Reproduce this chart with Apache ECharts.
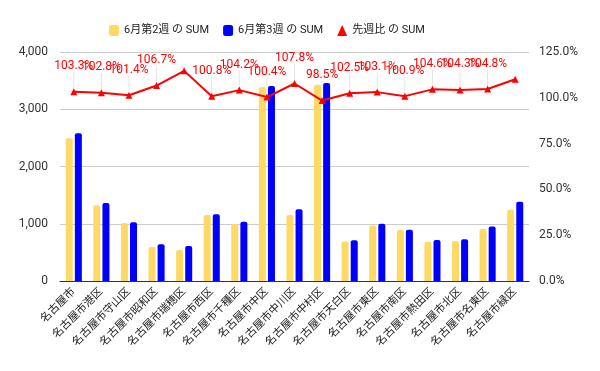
<!DOCTYPE html>
<html>
<head>
<meta charset="utf-8">
<script src="https://cdn.jsdelivr.net/npm/echarts@6/dist/echarts.min.js"></script>
<style>
html,body{margin:0;padding:0;background:#fff;}
#chart{width:600px;height:371px;}
</style>
</head>
<body>
<div id="chart"></div>
<script>
var categories = ['名古屋市','名古屋市港区','名古屋市守山区','名古屋市昭和区','名古屋市瑞穂区','名古屋市西区','名古屋市千種区','名古屋市中区','名古屋市中川区','名古屋市中村区','名古屋市天白区','名古屋市東区','名古屋市南区','名古屋市熱田区','名古屋市北区','名古屋市名東区','名古屋市緑区'];
var week2 = [2495, 1325, 1012, 595, 542, 1155, 995, 3387, 1155, 3430, 692, 968, 892, 684, 698, 910, 1245];
var week3 = [2580, 1362, 1026, 640, 612, 1168, 1035, 3405, 1252, 3458, 712, 1000, 895, 716, 730, 950, 1385];
var ratio = [103.3, 102.8, 101.4, 106.7, 114.7, 100.8, 104.2, 100.4, 107.8, 98.5, 102.5, 103.1, 100.9, 104.6, 104.3, 104.8, 110.1];
var hiddenLabels = [4, 16];
var leftTicks = {min: 0, max: 4000, interval: 1000};
var rightTicks = {min: 0, max: 125, interval: 25};
var names = ['6月第2週 の SUM', '6月第3週 の SUM', '先週比 の SUM'];

var FONT = 'Roboto, "Noto Sans CJK JP", sans-serif';
var chart = echarts.init(document.getElementById('chart'));
var ratioData = ratio.map(function (v, i) {
  return hiddenLabels.indexOf(i) >= 0 ? {value: v, label: {show: false}} : v;
});
chart.setOption({
  animation: false,
  textStyle: {fontFamily: FONT},
  legend: {
    top: 20,
    left: 104,
    itemWidth: 10,
    itemHeight: 11,
    itemGap: 14,
    textStyle: {fontSize: 11, color: '#222', fontFamily: FONT},
    data: [
      {name: names[0], icon: 'roundRect'},
      {name: names[1], icon: 'roundRect'},
      {name: names[2], icon: 'triangle'}
    ]
  },
  grid: {left: 60, right: 71, top: 52, bottom: 90, containLabel: false},
  xAxis: {
    type: 'category',
    data: categories,
    boundaryGap: true,
    axisLine: {lineStyle: {color: '#333', width: 1}},
    axisTick: {show: false},
    axisLabel: {rotate: 45, fontSize: 11, color: '#222', interval: 0, margin: 9, fontFamily: FONT}
  },
  yAxis: [
    {
      type: 'value',
      min: leftTicks.min, max: leftTicks.max, interval: leftTicks.interval,
      axisLine: {show: false},
      axisTick: {show: false},
      splitLine: {lineStyle: {color: '#ccc'}},
      axisLabel: {
        fontSize: 12, color: '#333', margin: 12,
        formatter: function (v) { return v.toLocaleString('en-US'); }
      }
    },
    {
      type: 'value',
      min: rightTicks.min, max: rightTicks.max, interval: rightTicks.interval,
      axisLine: {show: false},
      axisTick: {show: false},
      splitLine: {show: false},
      axisLabel: {
        fontSize: 12, color: '#333', margin: 10,
        formatter: function (v) { return v.toFixed(1) + '%'; }
      }
    }
  ],
  series: [
    {
      name: names[0], type: 'bar', data: week2, yAxisIndex: 0,
      barWidth: 7, barGap: '30%',
      itemStyle: {color: '#FFD966', borderRadius: [2, 2, 0, 0]}
    },
    {
      name: names[1], type: 'bar', data: week3, yAxisIndex: 0,
      barWidth: 7, barGap: '30%',
      itemStyle: {color: '#0000FF', borderRadius: [2, 2, 0, 0]}
    },
    {
      name: names[2], type: 'line', data: ratioData, yAxisIndex: 1,
      symbol: 'triangle', symbolSize: 7,
      lineStyle: {color: '#FF0000', width: 2},
      itemStyle: {color: '#FF0000'},
      z: 5,
      label: {
        show: true, position: 'top', distance: 4, fontSize: 12, color: '#FF0000',
        fontFamily: FONT,
        formatter: function (p) { return p.value.toFixed(1) + '%'; }
      },
      labelLayout: {dy: -12},
      labelLine: {show: true, lineStyle: {color: '#e4e4e4', width: 1}}
    }
  ]
});
</script>
</body>
</html>
